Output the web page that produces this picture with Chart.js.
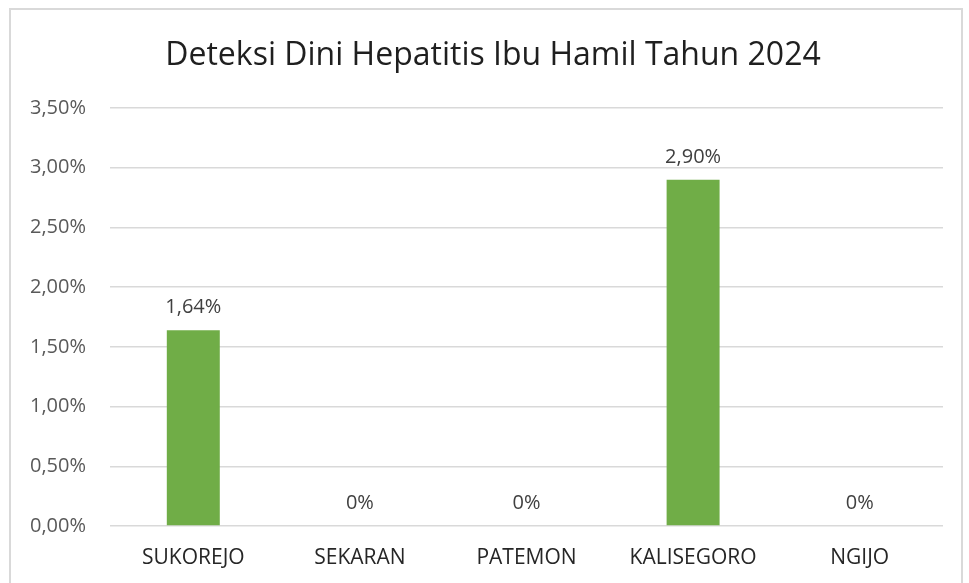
<!DOCTYPE html>
<html>
<head>
<meta charset="utf-8">
<script src="https://cdn.jsdelivr.net/npm/chart.js@4"></script>
<style>
  html, body { margin: 0; padding: 0; background: #fff; }
  #frame {
    position: absolute; left: 9px; top: 8px; width: 954px; height: 590px;
    border: 2px solid #d9d9d9; box-sizing: border-box;
  }
  #wrap { position: absolute; left: 0; top: 0; width: 969px; height: 583px; }
</style>
</head>
<body>
<div id="frame"></div>
<div id="wrap"><canvas id="chart"></canvas></div>
<script>
// Data
const categories = ["SUKOREJO", "SEKARAN", "PATEMON", "KALISEGORO", "NGIJO"];
const values = [1.64, 0, 0, 2.90, 0];          // percent
const valueLabels = ["1,64%", "0%", "0%", "2,90%", "0%"];
const chartTitle = "Deteksi Dini Hepatitis Ibu Hamil Tahun 2024";

const FONT = "'Open Sans', sans-serif";

// Title + data labels drawn on the canvas
const labelsPlugin = {
  id: "labelsPlugin",
  afterDatasetsDraw(chart) {
    const { ctx } = chart;
    ctx.save();
    ctx.fillStyle = "#1f1f1f";
    ctx.font = "32px " + FONT;
    ctx.textAlign = "center";
    ctx.textBaseline = "alphabetic";
    ctx.fillText(chartTitle, 493, 65);

    const meta = chart.getDatasetMeta(0);
    ctx.fillStyle = "#404040";
    ctx.font = "20px " + FONT;
    meta.data.forEach((bar, i) => {
      ctx.fillText(valueLabels[i], bar.x, bar.y - 17);
    });
    ctx.restore();
  },
};

new Chart(document.getElementById("chart"), {
  type: "bar",
  data: {
    labels: categories,
    datasets: [
      {
        data: values,
        backgroundColor: "#70ad47",
        barPercentage: 0.318,
        categoryPercentage: 1,
      },
    ],
  },
  options: {
    responsive: true,
    maintainAspectRatio: false,
    animation: false,
    layout: { padding: { top: 108, right: 26, left: 0, bottom: 0 } },
    plugins: {
      legend: { display: false },
      title: { display: false },
      tooltip: { enabled: false },
    },
    scales: {
      x: {
        grid: { display: false, drawTicks: false },
        border: { display: false },
        ticks: { color: "#262626", font: { family: FONT, size: 21 }, padding: 19 },
        afterFit(scale) { scale.height = 57; },
      },
      y: {
        min: 0,
        max: 3.5,
        grid: { color: "#d9d9d9", lineWidth: 1.5, drawTicks: false },
        border: { display: false },
        ticks: {
          stepSize: 0.5,
          color: "#595959",
          font: { family: FONT, size: 20 },
          padding: 24,
          callback: (v) => v.toFixed(2).replace(".", ",") + "%",
        },
        afterFit(scale) { scale.width = 110; },
      },
    },
  },
  plugins: [labelsPlugin],
});
</script>
</body>
</html>
